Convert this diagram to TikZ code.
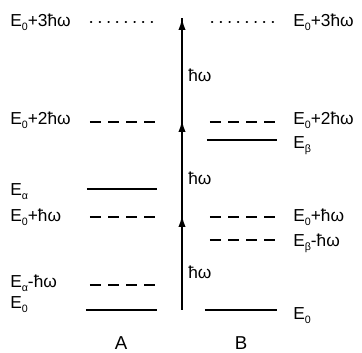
\documentclass[tikz,border=0pt]{standalone}
\usepackage{fontspec}
\setmainfont{Liberation Sans}
\usetikzlibrary{arrows.meta}
\newcommand\lsub[1]{\raisebox{-0.45ex}{\footnotesize #1}}
\tikzset{
  lbl/.style={anchor=west, inner sep=0pt, font=\fontsize{13}{13}\selectfont},
  solidlev/.style={line width=1.6pt},
  dashlev/.style={line width=1.6pt, dash pattern=on 8pt off 5.6pt},
  dotlev/.style={line width=1.6pt, line cap=round, dash pattern=on 0.3pt off 6.2pt},
  photonline/.style={line width=1.5pt},
  photon/.style={line width=1.5pt, -{Latex[length=9pt,width=5.5pt]}},
  hw/.style={anchor=west, inner sep=0pt, font=\fontsize{13}{13}\selectfont},
  side/.style={inner sep=0pt, font=\fontsize{14}{14}\selectfont}
}
\begin{document}
\begin{tikzpicture}[x=0.75pt,y=-0.75pt]
\useasboundingbox (0,0) rectangle (362,353);
% --- left column A ---
\node[lbl] (l3) at (10,22) {E\lsub{0}+3ħω};
\coordinate (a3a) at (91,22); \coordinate (a3b) at (157,22);
\draw[dotlev] (a3a) -- (a3b);
\node[lbl] (l2) at (10,120) {E\lsub{0}+2ħω};
\coordinate (a2a) at (90,122); \coordinate (a2b) at (157,122);
\draw[dashlev] (a2a) -- (a2b);
\node[lbl] (lea) at (10,192) {E\lsub{α}};
\coordinate (aea) at (87,189); \coordinate (aeb) at (157,189);
\draw[solidlev] (aea) -- (aeb);
\node[lbl] (l1) at (10,217) {E\lsub{0}+ħω};
\coordinate (a1a) at (90,217); \coordinate (a1b) at (157,217);
\draw[dashlev] (a1a) -- (a1b);
\node[lbl] (lam) at (10,283) {E\lsub{α}-ħω};
\coordinate (ama) at (90,285); \coordinate (amb) at (157,285);
\draw[dashlev] (ama) -- (amb);
\node[lbl] (l0) at (10,305) {E\lsub{0}};
\coordinate (a0a) at (86,310); \coordinate (a0b) at (157,310);
\draw[solidlev] (a0a) -- (a0b);
\node[side] (A) at (121,343) {A};
% --- right column B ---
\coordinate (b3a) at (212,22); \coordinate (b3b) at (280,22);
\draw[dotlev] (b3a) -- (b3b);
\node[lbl] (r3) at (293,22) {E\lsub{0}+3ħω};
\coordinate (b2a) at (210,122); \coordinate (b2b) at (277,122);
\draw[dashlev] (b2a) -- (b2b);
\node[lbl] (r2) at (293,120) {E\lsub{0}+2ħω};
\coordinate (bea) at (207,140); \coordinate (beb) at (277,140);
\draw[solidlev] (bea) -- (beb);
\node[lbl] (reb) at (293,146) {E\lsub{β}};
\coordinate (b1a) at (210,217); \coordinate (b1b) at (277,217);
\draw[dashlev] (b1a) -- (b1b);
\node[lbl] (r1) at (293,217) {E\lsub{0}+ħω};
\coordinate (bma) at (210,240); \coordinate (bmb) at (277,240);
\draw[dashlev] (bma) -- (bmb);
\node[lbl] (rbm) at (293,243) {E\lsub{β}-ħω};
\coordinate (b0a) at (205,310); \coordinate (b0b) at (277,310);
\draw[solidlev] (b0a) -- (b0b);
\node[lbl] (r0) at (293,316) {E\lsub{0}};
\node[side] (B) at (241,343) {B};
% --- photon arrow ---
\coordinate (p0) at (182,310);
\coordinate (p1) at (182,215);
\coordinate (p2) at (182,120);
\coordinate (p3) at (182,18);
\draw[photonline] (p0) -- (p3);
\draw[photon] (p0) -- (p1);
\draw[photon] (p1) -- (p2);
\draw[photon] (p2) -- (p3);
\node[hw] (h1) at (188,272) {ħω};
\node[hw] (h2) at (188,178) {ħω};
\node[hw] (h3) at (188,75) {ħω};
\end{tikzpicture}
\end{document}
